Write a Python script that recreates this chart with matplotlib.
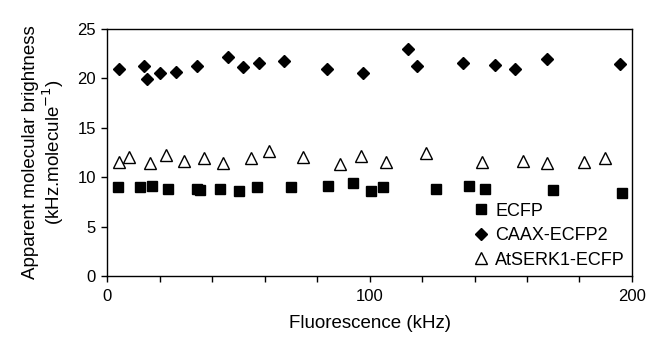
import matplotlib
matplotlib.use("Agg")
import matplotlib.pyplot as plt
from matplotlib.ticker import MultipleLocator

plt.rcParams['font.family'] = ['Liberation Sans', 'DejaVu Sans']

# ECFP (squares)
ecfp_x = [4.3, 12.4, 17.1, 23.2, 34.2, 35.5, 43.1, 50.2, 57.3, 70.1, 84.2, 93.8,
          100.4, 105.2, 125.2, 138.0, 144.0, 170.0, 196.3]
ecfp_y = [8.98, 8.98, 9.15, 8.85, 8.85, 8.68, 8.85, 8.58, 9.02, 8.98, 9.15, 9.42,
          8.61, 8.98, 8.85, 9.15, 8.85, 8.71, 8.44]

# CAAX-ECFP2 (diamonds)
caax_x = [4.6, 14.1, 15.4, 20.2, 26.1, 34.1, 46.0, 51.9, 57.9, 67.6, 83.8, 97.7,
          114.7, 118.1, 135.7, 147.7, 155.5, 167.6, 195.6]
caax_y = [20.9, 21.3, 19.96, 20.5, 20.6, 21.3, 22.2, 21.2, 21.6, 21.75, 21.0, 20.5,
          22.97, 21.3, 21.6, 21.4, 20.97, 22.0, 21.45]

# AtSERK1-ECFP (open triangles)
serk_x = [4.6, 8.4, 16.5, 22.4, 29.4, 37.0, 44.0, 54.8, 61.7, 74.7, 88.7, 96.8,
          106.2, 121.6, 142.7, 158.3, 167.6, 181.6, 189.7]
serk_y = [11.5, 12.0, 11.45, 12.2, 11.6, 11.9, 11.45, 11.9, 12.7, 12.06, 11.3, 12.1,
          11.5, 12.4, 11.5, 11.6, 11.4, 11.5, 11.95]

fig = plt.figure(figsize=(6.49, 3.39), dpi=100)
ax = fig.add_axes([0.1649, 0.1858, 0.9738 - 0.1649, 0.9145 - 0.1858])

ax.plot(ecfp_x, ecfp_y, linestyle='none', marker='s', markersize=7.2,
        color='black', label='ECFP')
ax.plot(caax_x, caax_y, linestyle='none', marker='D', markersize=5.8,
        color='black', label='CAAX-ECFP2')
ax.plot(serk_x, serk_y, linestyle='none', marker='^', markersize=8.6,
        markerfacecolor='white', markeredgecolor='black', markeredgewidth=1.0,
        label='AtSERK1-ECFP')

ax.set_xlim(0, 200)
ax.set_ylim(0, 25)
ax.xaxis.set_major_locator(MultipleLocator(100))
ax.xaxis.set_minor_locator(MultipleLocator(20))
ax.yaxis.set_major_locator(MultipleLocator(5))
ax.tick_params(axis='both', which='both', direction='out', length=4.5, width=1.0,
               labelsize=12, color='black')
ax.tick_params(axis='x', which='major', pad=5)
for s in ax.spines.values():
    s.set_linewidth(1.0)

ax.set_xlabel('Fluorescence (kHz)', fontsize=13.5, labelpad=8)
ax.set_ylabel('Apparent molecular brightness\n(kHz.molecule$^{-1}$)', fontsize=13.5,
              labelpad=8, linespacing=1.1)

leg = ax.legend(loc='lower right', bbox_to_anchor=(1.0, 0.0), frameon=False,
                fontsize=13, handlelength=0.8, handletextpad=0.4,
                labelspacing=0.42, borderaxespad=0.2, borderpad=0.2)

fig.savefig('out.png', dpi=100)
